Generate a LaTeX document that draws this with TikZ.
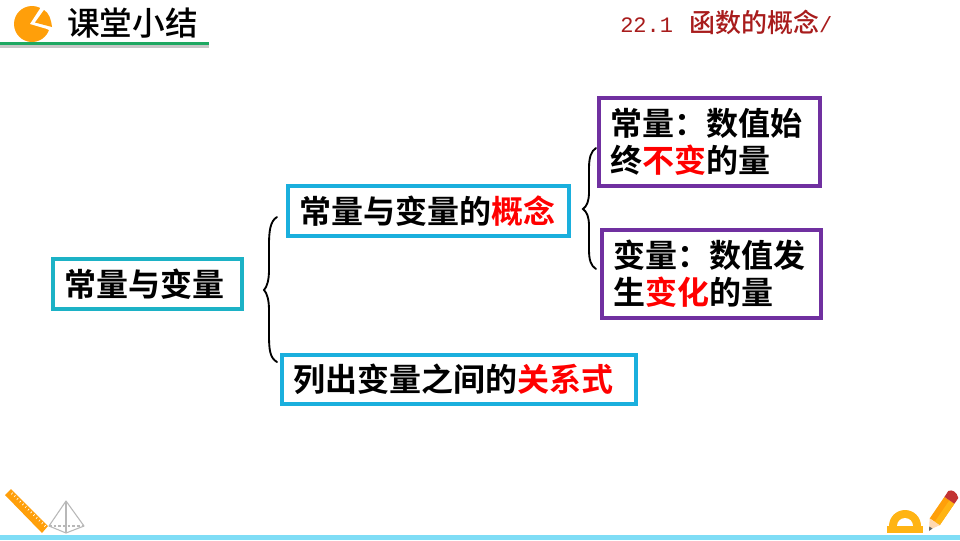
\documentclass[tikz,border=0pt]{standalone}
\usepackage{fontspec}
\setmainfont{Liberation Mono}
\newfontfamily\cjk{Noto Sans CJK SC Medium}
\newfontfamily\cjkb{Noto Sans CJK SC Bold}
\definecolor{boxblue}{HTML}{1AAFDD}
\definecolor{boxteal}{HTML}{1CB2C6}
\definecolor{boxpurple}{HTML}{7030A0}
\definecolor{keyred}{HTML}{FF0000}
\definecolor{headred}{HTML}{A81C1C}
\definecolor{barg}{HTML}{1EA862}
\definecolor{iconor}{HTML}{FF9F0A}
\definecolor{proto}{HTML}{FFB414}
\definecolor{strip}{HTML}{7FDDF6}
\newcommand{\kw}[1]{\textcolor{keyred}{#1}}
\tikzset{
  x=0.75pt,y=-0.75pt,
  box/.style n args={3}{draw=#1,line width=2.3pt,fill=white,outer sep=0pt,
    inner xsep=8.7pt,inner ysep=0pt,align=left,
    text width=#2*0.75pt-17.4pt,minimum height=#3*0.75pt,
    font=\cjkb\fontsize{24}{27.75}\selectfont,text=black,anchor=north west},
  brace/.style={draw=black,line width=1.4pt,line cap=round},
  wire/.style={draw=black!28,line width=0.8pt}
}
\begin{document}
\begin{tikzpicture}
\useasboundingbox (0,0) rectangle (960,540);
\fill[white] (0,0) rectangle (960,540);
% header
\fill[black!22] (0,45) rectangle (209,47.5);
\fill[barg] (0,42) rectangle (209,45);
\fill[iconor] (32,24) circle[radius=18*0.75pt];
\fill[white] (30,24) -- (43,4) -- (56,4) -- (56,34) -- (47,29) -- cycle;
\fill[iconor] (35,22.5) -- (44,10) .. controls (49,13) and (51,19) .. (52,27) -- cycle;
\node[font=\cjk\fontsize{24.5}{28}\selectfont,anchor=west,inner sep=0pt] (title) at (67,23) {课堂小结};
\node[font=\fontsize{16.5}{20}\selectfont,text=headred,anchor=west,inner sep=0pt] (head) at (620,22)
  {22.1\hspace{12pt}{\cjk\fontsize{19.5}{20}\selectfont 函数的概念}/};
% boxes
\node[box={boxteal}{189}{50}] (root) at (53,259) {常量与变量};
\node[box={boxblue}{281}{50}] (concept) at (288,186) {常量与变量的\kw{概念}};
\node[box={boxblue}{354}{49}] (relation) at (282,355) {列出变量之间的\kw{关系式}};
\node[box={boxpurple}{221}{88}] (const) at (599,98) {常量：数值始\\终\kw{不变}的量};
\node[box={boxpurple}{219}{88}] (var) at (602,230) {变量：数值发\\生\kw{变化}的量};
% braces
\draw[brace] (277,217) .. controls (270,221) and (269,232) .. (269,245)
  -- (269,270) .. controls (269,280) and (267,287) .. (264,290)
  .. controls (267,293) and (269,300) .. (269,310)
  -- (269,335) .. controls (269,350) and (270,358) .. (277,362);
\draw[brace] (596,148) .. controls (591,151) and (589,158) .. (589,168)
  -- (589,192) .. controls (589,201) and (587,206) .. (583,209)
  .. controls (587,212) and (589,217) .. (589,226)
  -- (589,250) .. controls (589,260) and (591,266) .. (596,269);
% bottom strip
\fill[strip] (0,535) rectangle (960,540);
% ruler
\fill[iconor] (11,489) -- (5,495) -- (42,533) -- (48,526) -- cycle;
\foreach \t in {1,...,13}{
  \draw[white,line width=0.5pt] ({10+\t*2.75},{490+\t*2.7}) -- ({8.5+\t*2.75},{491.6+\t*2.7});
}
% pyramid
\draw[wire,line join=round] (66,501) -- (49,526) -- (66,533) -- (84,526) -- cycle;
\draw[wire] (66,501) -- (66,533);
\draw[wire,dashed,dash pattern=on 2pt off 1.5pt] (49,526) -- (84,526);
% protractor
\fill[proto] (889,526) arc[start angle=180,end angle=0,radius=16*0.75pt] -- cycle;
\fill[white] (897,526) arc[start angle=180,end angle=0,radius=8*0.75pt] -- cycle;
\fill[proto] (887,525.5) rectangle (923,533);
% pencil
\fill[iconor] (929.7,518.4) -- (939.7,525.2) -- (954.4,503.7) -- (944.4,496.9) -- cycle;
\fill[proto] (934.7,521.8) -- (949.4,500.3) -- (954.4,503.7) -- (939.7,525.2) -- cycle;
\fill[orange!30!white] (929,530) -- (929.7,518.4) -- (939.7,525.2) -- cycle;
\fill[black!60] (929,531) -- (929.3,526.5) -- (932.5,528.5) -- cycle;
\fill[red!70!black!80] (944.4,496.9) -- (954.4,503.7) -- (958.3,498) .. controls (957,492) and (952,489) .. (948.3,491) -- cycle;
\end{tikzpicture}
\end{document}
